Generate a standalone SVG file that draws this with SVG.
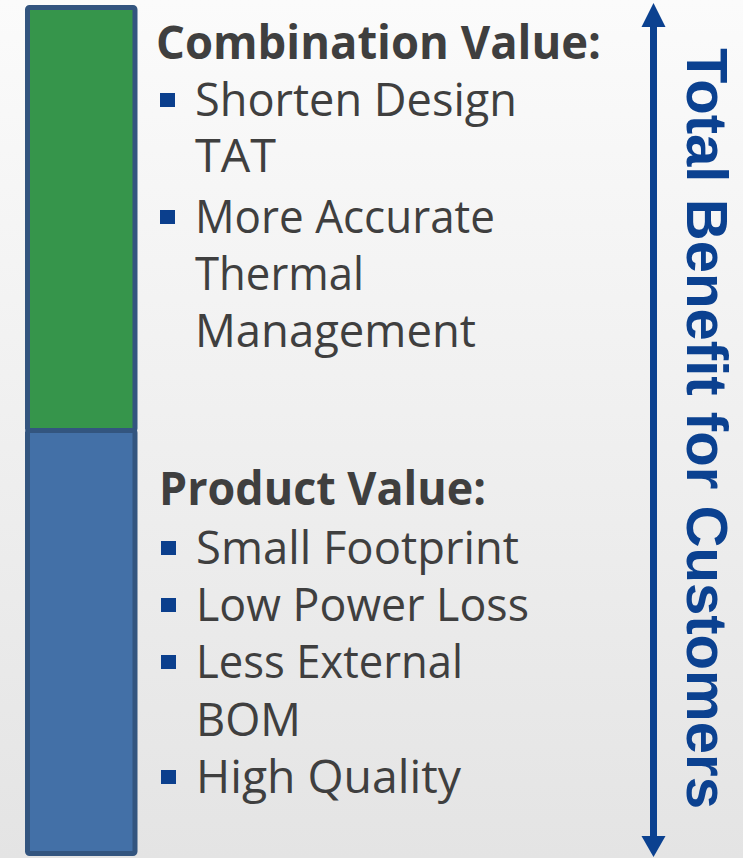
<svg xmlns="http://www.w3.org/2000/svg" width="743" height="858" viewBox="0 0 743 858">
<defs>
<linearGradient id="bg" x1="0" y1="0" x2="0" y2="1">
<stop offset="0" stop-color="#fbfbfb"/>
<stop offset="1" stop-color="#e4e4e4"/>
</linearGradient>
</defs>
<style>
.t{font-family:"Open Sans","Noto Sans","Liberation Sans",sans-serif;font-size:45px;fill:#3f3f3f}
.h{font-family:"Open Sans","Noto Sans","Liberation Sans",sans-serif;font-size:46px;font-weight:bold;fill:#3f3f3f}
.b{fill:#0b3f8d}
.bar{stroke:#33557f;stroke-width:5}
.v{font-family:"Liberation Sans",Arial,sans-serif;font-size:57px;font-weight:bold;fill:#0b4190}
</style>
<rect x="0" y="0" width="743" height="858" fill="url(#bg)"/>
<g id="bar-combination">
<rect class="bar" x="27.5" y="7.5" width="107.5" height="423" rx="2" fill="#36954b"/>
</g>
<g id="bar-product">
<rect class="bar" x="27.5" y="430.5" width="107.5" height="423" rx="2" fill="#4370a7"/>
</g>
<g id="combination-text">
<text class="h" x="156" y="59" textLength="445" lengthAdjust="spacingAndGlyphs">Combination Value:</text>
<rect class="b" x="160" y="93" width="15" height="14"/>
<text class="t" x="195" y="116" textLength="322" lengthAdjust="spacingAndGlyphs">Shorten Design</text>
<text class="t" x="195" y="172" textLength="81" lengthAdjust="spacingAndGlyphs">TAT</text>
<rect class="b" x="160" y="210" width="15" height="14"/>
<text class="t" x="195" y="233" textLength="300" lengthAdjust="spacingAndGlyphs">More Accurate</text>
<text class="t" x="195" y="290" textLength="169" lengthAdjust="spacingAndGlyphs">Thermal</text>
<text class="t" x="195" y="347" textLength="281" lengthAdjust="spacingAndGlyphs">Management</text>
</g>
<g id="product-text">
<text class="h" x="159" y="505" textLength="327" lengthAdjust="spacingAndGlyphs">Product Value:</text>
<rect class="b" x="161" y="541" width="15" height="14"/>
<text class="t" x="196" y="564" textLength="323" lengthAdjust="spacingAndGlyphs">Small Footprint</text>
<rect class="b" x="161" y="598" width="15" height="14"/>
<text class="t" x="196" y="621" textLength="333" lengthAdjust="spacingAndGlyphs">Low Power Loss</text>
<rect class="b" x="161" y="655" width="15" height="14"/>
<text class="t" x="196" y="678" textLength="267" lengthAdjust="spacingAndGlyphs">Less External</text>
<text class="t" x="196" y="736" textLength="105" lengthAdjust="spacingAndGlyphs">BOM</text>
<rect class="b" x="161" y="770" width="15" height="14"/>
<text class="t" x="196" y="793" textLength="265" lengthAdjust="spacingAndGlyphs">High Quality</text>
</g>
<g id="connectors">
<line x1="653.5" y1="26" x2="653.5" y2="838" stroke="#0b4190" stroke-width="7"/>
<polygon points="641.5,27 665.5,27 653.5,3" fill="#0b4190"/>
<polygon points="641.5,836 665.5,836 653.5,857" fill="#0b4190"/>
</g>
<g id="total-benefit-label">
<text class="v" transform="translate(686.5,48) rotate(90)" x="0" y="0" textLength="761" lengthAdjust="spacingAndGlyphs">Total Benefit for Customers</text>
</g>
</svg>
